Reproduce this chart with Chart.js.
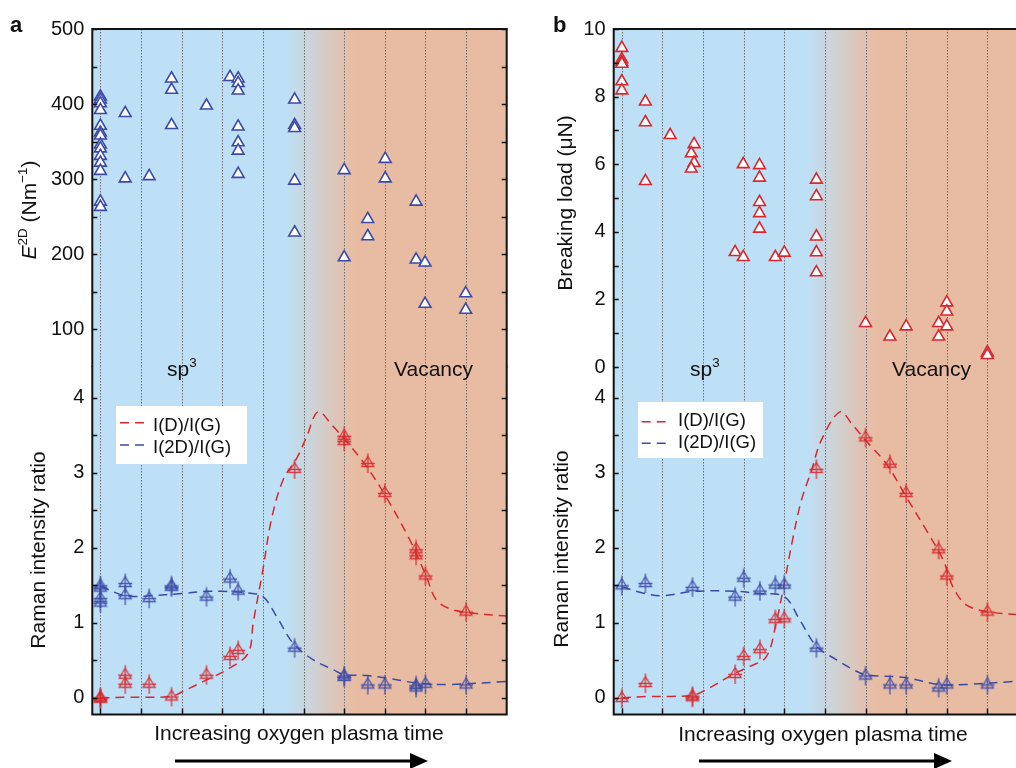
<!DOCTYPE html>
<html>
<head>
<meta charset="utf-8">
<script src="https://cdn.jsdelivr.net/npm/chart.js@4.4.1/dist/chart.umd.min.js"></script>
<style>
  html, body { margin: 0; padding: 0; background: #fff; }
  #wrap { position: relative; width: 1016px; height: 768px; overflow: hidden; }
  canvas { position: absolute; }
  #aTop { left: 0; top: 0; z-index: 2; }
  #aBot { left: 0; top: 336px; z-index: 1; }
  #bTop { left: 520px; top: 0; z-index: 2; }
  #bBot { left: 520px; top: 336px; z-index: 1; }
</style>
</head>
<body>
<div id="wrap">
  <canvas id="aTop" width="520" height="400" style="width:520px;height:400px"></canvas>
  <canvas id="aBot" width="520" height="432" style="width:520px;height:432px"></canvas>
  <canvas id="bTop" width="520" height="400" style="width:520px;height:400px"></canvas>
  <canvas id="bBot" width="520" height="432" style="width:520px;height:432px"></canvas>
</div>
<script>
// ---------- data ----------
// sample positions along "increasing oxygen plasma time" (dotted lines)
const gridX = [0, 1, 2, 3, 4, 5, 6, 7, 8, 9];

// ticks and tick labels
const aTopTicks = [100, 150, 200, 250, 300, 350, 400, 450, 500];
const aTopLabels = [100, 200, 300, 400, 500];
const bTopTicks = [0, 1, 2, 3, 4, 5, 6, 7, 8, 9, 10];
const bTopLabels = [0, 2, 4, 6, 8, 10];
const ramanTicks = [0, 0.5, 1, 1.5, 2, 2.5, 3, 3.5, 4];
const ramanLabels = [0, 1, 2, 3, 4];

// panel a, top: E2D (N/m)
const aTopX = [0,0,0,0,0,0,0,0,0,0,0,0,0,0, 0.61,0.61, 1.2, 1.75,1.75,1.75, 2.61, 3.19,
  3.39,3.39,3.39,3.39,3.39,3.39,3.39, 4.78,4.78,4.78,4.78,4.78, 6.0,6.0, 6.58,6.58,
  7.01,7.01, 7.77,7.77, 7.99,7.99, 8.99,8.99];
const aTopY = [410,406,401,392,371,362,358,346,341,331,322,311,270,263, 388,301, 304, 434,419,372, 398, 436,
  434,428,418,370,349,338,307, 406,372,368,298,229, 312,196, 247,224,
  327,301, 270,193, 189,134, 148,126];

// panel b, top: breaking load (uN)
const bTopX = [0,0,0,0,0,0, 0.58,0.58,0.58, 1.19, 1.78,1.71,1.78,1.71, 2.79, 2.99,2.99,
  3.39,3.39,3.39,3.39,3.39, 3.78, 4.0, 4.79,4.79,4.79,4.79,4.79, 6.0, 6.6, 7.0,
  7.8,7.8, 8.0,8.0,8.0, 9.0,9.0];
const bTopY = [9.44,9.1,9.02,8.97,8.45,8.18, 7.85,7.24,5.5, 6.86, 6.59,6.32,6.04,5.87, 3.4, 6.0,3.25,
  5.97,5.6,4.88,4.55,4.09, 3.25, 3.38, 5.54,5.05,3.86,3.39,2.8, 1.3, 0.9, 1.2,
  1.3,0.9, 1.91,1.64,1.2, 0.43,0.35];

// panel a, bottom: Raman ratios (measured)
const aDX = [0,0,0, 0.61,0.61, 1.2, 1.75, 2.61, 3.19, 3.39, 4.78, 6.0,6.0, 6.58, 7.0, 7.77,7.77, 8.0, 9.0];
const aDY = [0.01,-0.01,0.0, 0.31,0.19, 0.19, 0.02, 0.31, 0.56, 0.64, 3.05, 3.49,3.42, 3.13, 2.73, 1.98,1.9, 1.63, 1.15];
const a2DX = [0,0,0,0, 0.61,0.61, 1.2, 1.75,1.75, 2.61, 3.19, 3.39, 4.78, 6.0,6.0, 6.58, 7.0, 7.77,7.77, 8.0, 9.0];
const a2DY = [1.5,1.47,1.33,1.27, 1.53,1.37, 1.33, 1.5,1.48, 1.35, 1.59, 1.43, 0.67, 0.3,0.28, 0.18, 0.18, 0.17,0.14, 0.19, 0.18];
// panel a, bottom: guide curves
const aDCurveX = [0, 0.61, 1.2, 1.75, 2.0, 2.61, 3.19, 3.64, 3.76, 4.0, 4.21, 4.5, 4.82, 5.07, 5.36, 5.72, 6.05, 6.54, 7.04, 7.61, 8.02, 8.26, 8.59, 9.0, 10];
const aDCurveY = [0, 0.01, 0.01, 0.02, 0.08, 0.24, 0.4, 0.6, 1.0, 1.71, 2.38, 2.91, 3.18, 3.47, 3.81, 3.62, 3.42, 3.09, 2.67, 2.11, 1.62, 1.31, 1.19, 1.14, 1.09];
const a2DCurveX = [0, 0.61, 1.2, 2.0, 2.61, 3.0, 3.59, 4.0, 4.33, 4.74, 5.23, 5.72, 6.0, 6.54, 7.0, 7.78, 8.59, 10];
const a2DCurveY = [1.49, 1.36, 1.36, 1.39, 1.42, 1.42, 1.4, 1.35, 1.09, 0.73, 0.51, 0.38, 0.31, 0.3, 0.27, 0.2, 0.18, 0.22];

// panel b, bottom: Raman ratios (measured)
const bDX = [0, 0.58, 1.74,1.74, 2.79, 3.0, 3.4, 3.78, 4.0, 4.79, 6.0, 6.6, 7.0, 7.8, 8.0, 9.0];
const bDY = [0.0, 0.2, 0.03,0.01, 0.32, 0.56, 0.65, 1.05, 1.06, 3.05, 3.47, 3.12, 2.73, 1.98, 1.63, 1.15];
const b2DX = [0, 0.58, 1.74, 2.79, 3.0, 3.4, 3.78, 4.0, 4.79, 6.0, 6.6, 7.0, 7.8, 8.0, 9.0];
const b2DY = [1.5, 1.53, 1.48, 1.35, 1.6, 1.43, 1.51, 1.51, 0.67, 0.3, 0.18, 0.18, 0.14, 0.18, 0.18];
const bDCurveX = [0, 0.58, 1.19, 1.78, 2.08, 2.79, 3.15, 3.56, 3.8, 4.0, 4.22, 4.42, 4.67, 4.91, 5.37, 5.69, 6.0, 6.51, 7.0, 7.5, 7.91, 8.15, 8.48, 9.0, 9.7, 10];
const bDCurveY = [0, 0.02, 0.02, 0.04, 0.11, 0.33, 0.42, 0.55, 1.0, 1.53, 2.15, 2.63, 3.03, 3.43, 3.81, 3.63, 3.43, 3.12, 2.68, 2.23, 1.84, 1.48, 1.24, 1.15, 1.11, 1.09];
const b2DCurveX = [0, 0.58, 1.0, 1.78, 2.79, 3.39, 4.0, 4.38, 4.79, 5.28, 5.69, 6.0, 7.0, 7.8, 8.48, 9.7, 10];
const b2DCurveY = [1.48, 1.39, 1.36, 1.42, 1.42, 1.39, 1.35, 1.04, 0.69, 0.51, 0.38, 0.31, 0.27, 0.18, 0.18, 0.22, 0.22];

// ---------- styling ----------
const FONT = '"Liberation Sans", Arial, Helvetica, sans-serif';
const BLUE = '#3c4aa7';
const RED = '#d8282e';
const BG_BLUE = 'rgb(189,224,246)';
const BG_SALMON = 'rgb(232,188,163)';
const FADE_FROM = 4.55, FADE_TO = 6.25;   // sp3 -> vacancy transition (x units)

function pts(xs, ys) { return xs.map((x, i) => ({ x: x, y: ys[i] })); }

// triangle with error-bar cross, used for the Raman markers
function crossTri(color) {
  const c = document.createElement('canvas');
  c.width = 18; c.height = 22;
  const g = c.getContext('2d');
  g.strokeStyle = color;
  g.lineWidth = 1.3;
  g.beginPath(); g.moveTo(9, 4.5); g.lineTo(15, 14.5); g.lineTo(3, 14.5); g.closePath(); g.stroke();
  g.beginPath(); g.moveTo(9, 1.5); g.lineTo(9, 21); g.moveTo(2, 11.5); g.lineTo(16, 11.5); g.stroke();
  return c;
}
const triRed = crossTri('rgba(216,40,46,0.9)');
const triBlue = crossTri('rgba(60,74,167,0.9)');

// rich text (italic / superscript pieces)
function drawRich(ctx, parts, x, y, size, align) {
  const fontFor = p => (p.i ? 'italic ' : '') + (p.sup ? size * 0.64 : size) + 'px ' + FONT;
  let w = 0;
  parts.forEach(p => { ctx.font = fontFor(p); w += ctx.measureText(p.t).width; });
  let cx = align === 'center' ? x - w / 2 : x;
  ctx.textAlign = 'left';
  ctx.textBaseline = 'alphabetic';
  parts.forEach(p => {
    ctx.font = fontFor(p);
    ctx.fillText(p.t, cx, p.sup ? y - size * 0.42 : y);
    cx += ctx.measureText(p.t).width;
  });
}

// background gradient + dotted verticals
const bgPlugin = {
  id: 'bgPlugin',
  beforeDraw(chart) {
    const { ctx, chartArea: a, scales: { x } } = chart;
    ctx.save();
    const g = ctx.createLinearGradient(x.getPixelForValue(FADE_FROM), 0, x.getPixelForValue(FADE_TO), 0);
    g.addColorStop(0, BG_BLUE);
    g.addColorStop(1, BG_SALMON);
    ctx.fillStyle = g;
    ctx.fillRect(a.left, a.top, a.right - a.left, a.bottom - a.top);
    ctx.strokeStyle = '#6f6f6f';
    ctx.lineWidth = 1;
    ctx.setLineDash([1.5, 1.5]);
    gridX.forEach(v => {
      const px = Math.round(x.getPixelForValue(v)) + 0.5;
      ctx.beginPath(); ctx.moveTo(px, a.top); ctx.lineTo(px, a.bottom); ctx.stroke();
    });
    ctx.restore();
  }
};

// frame, inner ticks, titles, labels, legend, arrow
function makeDeco(cfg) {
  return {
    id: 'deco',
    afterDraw(chart) {
      const { ctx, chartArea: a, scales: { x, y } } = chart;
      ctx.save();
      ctx.strokeStyle = '#111';
      ctx.fillStyle = '#111';
      // frame
      ctx.lineWidth = 2;
      ctx.beginPath();
      ctx.moveTo(a.left, a.top); ctx.lineTo(a.left, a.bottom);
      ctx.moveTo(a.right, a.top); ctx.lineTo(a.right, a.bottom);
      if (cfg.top) { ctx.moveTo(a.left - 1, a.top); ctx.lineTo(a.right + 1, a.top); }
      else { ctx.moveTo(a.left - 1, a.bottom); ctx.lineTo(a.right + 1, a.bottom); }
      ctx.stroke();
      // inner ticks
      ctx.lineWidth = 1.5;
      ctx.beginPath();
      y.ticks.forEach(t => {
        const py = Math.round(y.getPixelForValue(t.value)) + 0.5;
        ctx.moveTo(a.left, py); ctx.lineTo(a.left + 5, py);
        ctx.moveTo(a.right, py); ctx.lineTo(a.right - 5, py);
      });
      if (!cfg.top) {
        gridX.forEach(v => {
          const px = Math.round(x.getPixelForValue(v)) + 0.5;
          ctx.moveTo(px, a.bottom); ctx.lineTo(px, a.bottom - 6);
        });
      }
      ctx.stroke();

      // y title
      ctx.save();
      ctx.translate(cfg.yTitle.x, cfg.yTitle.y);
      ctx.rotate(-Math.PI / 2);
      drawRich(ctx, cfg.yTitle.parts, 0, 0, 21, 'center');
      ctx.restore();

      if (cfg.letter) {
        ctx.font = 'bold 22px ' + FONT;
        ctx.textAlign = 'left';
        ctx.fillText(cfg.letter.t, cfg.letter.x, cfg.letter.y);
      }
      (cfg.labels || []).forEach(l => drawRich(ctx, l.parts, l.x, l.y, 21, 'left'));

      if (cfg.legend) {
        const L = cfg.legend;
        ctx.fillStyle = '#fff';
        ctx.fillRect(L.x, L.y, L.w, L.h);
        const items = chart.data.datasets.filter(d => d.inLegend);
        items.forEach((d, i) => {
          const ly = L.y + L.lineY[i];
          ctx.strokeStyle = d.borderColor;
          ctx.lineWidth = 1.5;
          ctx.setLineDash([9, 6]);
          ctx.beginPath(); ctx.moveTo(L.x + L.dash[0], ly); ctx.lineTo(L.x + L.dash[1], ly); ctx.stroke();
          ctx.setLineDash([]);
          ctx.fillStyle = '#111';
          ctx.font = '18.5px ' + FONT;
          ctx.textAlign = 'left';
          ctx.textBaseline = 'alphabetic';
          ctx.fillText(d.label, L.x + L.textX, L.y + L.textY[i]);
        });
      }

      if (cfg.xTitle) {
        ctx.fillStyle = '#111';
        ctx.font = '21px ' + FONT;
        ctx.textAlign = 'center';
        ctx.textBaseline = 'alphabetic';
        ctx.fillText(cfg.xTitle.t, cfg.xTitle.x, cfg.xTitle.y);
        const ar = cfg.arrow;
        ctx.strokeStyle = '#000';
        ctx.fillStyle = '#000';
        ctx.lineWidth = 3;
        ctx.beginPath(); ctx.moveTo(ar.x0, ar.y); ctx.lineTo(ar.x1 - 14, ar.y); ctx.stroke();
        ctx.beginPath();
        ctx.moveTo(ar.x1, ar.y); ctx.lineTo(ar.x1 - 18, ar.y - 8); ctx.lineTo(ar.x1 - 18, ar.y + 8); ctx.closePath();
        ctx.fill();
      }
      ctx.restore();
    }
  };
}

function yScale(min, max, tickVals, labels, width) {
  return {
    type: 'linear', min: min, max: max, bounds: 'data',
    grid: { display: false, drawTicks: false },
    border: { display: false },
    afterBuildTicks: s => { s.ticks = tickVals.map(v => ({ value: v })); },
    ticks: {
      autoSkip: false, padding: 8,
      color: '#111', font: { family: FONT, size: 20 },
      callback: v => labels.includes(v) ? String(v) : ''
    },
    afterFit: s => { s.width = width; }
  };
}

function xScale() {
  return { type: 'linear', min: -0.2, max: 10, bounds: 'data', display: false };
}

function topChart(id, xs, ys, color, yMin, yMax, tickVals, labels, axisW, padRight, deco) {
  return new Chart(document.getElementById(id), {
    type: 'scatter',
    data: {
      datasets: [{
        data: pts(xs, ys),
        pointStyle: 'triangle', pointRadius: 6.8, pointBorderWidth: 1.6,
        pointBackgroundColor: '#fff', pointBorderColor: color
      }]
    },
    options: {
      responsive: false, animation: false, events: [],
      layout: { padding: { left: 0, right: padRight, top: 29, bottom: 33 } },
      plugins: { legend: { display: false }, tooltip: { enabled: false } },
      scales: { x: xScale(), y: yScale(yMin, yMax, tickVals, labels, axisW) }
    },
    plugins: [bgPlugin, makeDeco(deco)]
  });
}

function botChart(id, d, d2, cD, c2D, axisW, padRight, deco) {
  return new Chart(document.getElementById(id), {
    type: 'scatter',
    data: {
      datasets: [
        { data: d, pointStyle: triRed, pointRadius: 8 },
        { data: d2, pointStyle: triBlue, pointRadius: 8 },
        { label: 'I(D)/I(G)', inLegend: true, data: cD, showLine: true, pointRadius: 0,
          borderColor: RED, borderWidth: 1.5, borderDash: [9, 6], tension: 0.35, fill: false },
        { label: 'I(2D)/I(G)', inLegend: true, data: c2D, showLine: true, pointRadius: 0,
          borderColor: BLUE, borderWidth: 1.5, borderDash: [9, 6], tension: 0.35, fill: false }
      ]
    },
    options: {
      responsive: false, animation: false, events: [],
      layout: { padding: { left: 0, right: padRight, top: 30, bottom: 53.5 } },
      plugins: { legend: { display: false }, tooltip: { enabled: false } },
      scales: { x: xScale(), y: yScale(-0.22, 4.42, ramanTicks, ramanLabels, axisW) }
    },
    plugins: [bgPlugin, makeDeco(deco)]
  });
}

const ramanTitle = [{ t: 'Raman intensity ratio' }];

topChart('aTop', aTopX, aTopY, BLUE, 50, 500, aTopTicks, aTopLabels, 92.3, 13.3, {
  top: true,
  letter: { t: 'a', x: 10, y: 32 },
  yTitle: { x: 36, y: 210, parts: [{ t: 'E', i: true }, { t: '2D', sup: true }, { t: ' (Nm' }, { t: '\u22121', sup: true }, { t: ')' }] },
  labels: [
    { parts: [{ t: 'sp' }, { t: '3', sup: true }], x: 167, y: 376 },
    { parts: [{ t: 'Vacancy' }], x: 394, y: 376 }
  ]
});

topChart('bTop', bTopX, bTopY, RED, 0, 10, bTopTicks, bTopLabels, 93.7, 12, {
  top: true,
  letter: { t: 'b', x: 33, y: 32 },
  yTitle: { x: 52, y: 203, parts: [{ t: 'Breaking load (\u03bcN)' }] },
  labels: [
    { parts: [{ t: 'sp' }, { t: '3', sup: true }], x: 170, y: 376 },
    { parts: [{ t: 'Vacancy' }], x: 372, y: 376 }
  ]
});

// bottom canvases start at page y 336
botChart('aBot', pts(aDX, aDY), pts(a2DX, a2DY), pts(aDCurveX, aDCurveY), pts(a2DCurveX, a2DCurveY), 92.3, 13.3, {
  top: false,
  yTitle: { x: 45, y: 214, parts: ramanTitle },
  legend: { x: 116, y: 70, w: 131, h: 58, dash: [4, 33], lineY: [16.7, 39], textX: 37, textY: [25, 47] },
  xTitle: { t: 'Increasing oxygen plasma time', x: 299, y: 404 },
  arrow: { x0: 175, x1: 428, y: 425 }
});

botChart('bBot', pts(bDX, bDY), pts(b2DX, b2DY), pts(bDCurveX, bDCurveY), pts(b2DCurveX, b2DCurveY), 93.7, 12, {
  top: false,
  yTitle: { x: 48, y: 213, parts: ramanTitle },
  legend: { x: 118, y: 66, w: 125, h: 56, dash: [3.7, 32], lineY: [19.7, 41.3], textX: 40, textY: [23.5, 46] },
  xTitle: { t: 'Increasing oxygen plasma time', x: 303, y: 405 },
  arrow: { x0: 179, x1: 432, y: 425 }
});
</script>
</body>
</html>
